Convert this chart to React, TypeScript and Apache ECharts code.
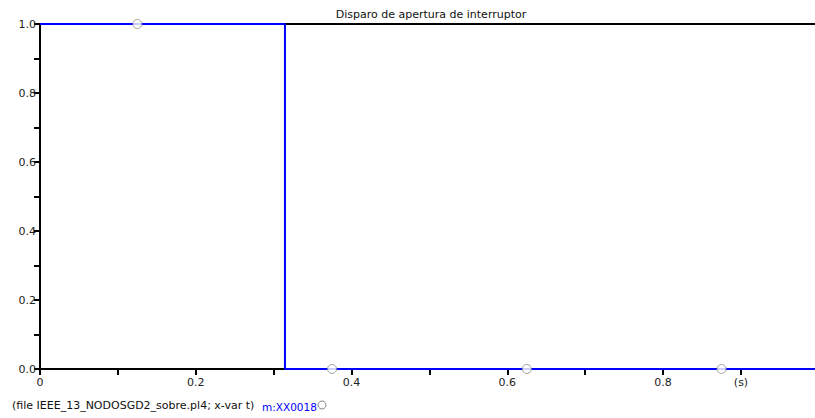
import React, { useEffect, useRef } from "react";
import * as echarts from "echarts";

const titleText = "Disparo de apertura de interruptor";
const fileText = "(file IEEE_13_NODOSGD2_sobre.pl4; x-var t)";
const seriesName = "m:XX0018";
const stepT = [0, 0.3145, 0.3145, 0.995];
const stepV = [1, 1, 0, 0];
const markerT = [0.125, 0.375, 0.625, 0.875];
const markerV = [1, 0, 0, 0];
const xMax = 0.995;
const xUnitLabel = "(s)";

const FONT = "DejaVu Sans";

export default function App() {
  const ref = useRef<HTMLDivElement>(null);
  useEffect(() => {
    document.body.style.margin = "0";
    const chart = echarts.init(ref.current!, null, { renderer: "svg" });
    const lineData = stepT.map((t, i) => [t, stepV[i]]);
    const markData = markerT.map((t, i) => [t, markerV[i]]);
    chart.setOption({
      animation: false,
      backgroundColor: "#ffffff",
      title: {
        text: titleText,
        left: 426,
        textAlign: "center",
        top: 4,
        textStyle: { fontFamily: FONT, fontSize: 11, fontWeight: "normal", color: "#111" },
      },
      grid: { left: 40, right: 0, top: 24, bottom: 49 },
      xAxis: [
        {
          type: "value",
          min: 0,
          max: xMax,
          interval: 0.1,
          axisLine: { show: true, lineStyle: { color: "#000", width: 2 } },
          axisTick: { show: true, length: 6, lineStyle: { color: "#000", width: 2 } },
          splitLine: { show: false },
          axisLabel: {
            margin: 8,
            fontFamily: FONT,
            fontSize: 11,
            color: "#222",
            showMaxLabel: false,
            formatter: (v: number) => {
              const k = Math.round(v * 10);
              if (k === 9) return xUnitLabel;
              if (k % 2 !== 0) return "";
              return k === 0 ? "0" : (k / 10).toFixed(1);
            },
          },
        },
        {
          type: "value",
          position: "top",
          min: 0,
          max: xMax,
          axisLine: { show: true, onZero: false, lineStyle: { color: "#000", width: 2 } },
          axisTick: { show: false },
          axisLabel: { show: false },
          splitLine: { show: false },
        },
      ],
      yAxis: {
        type: "value",
        min: 0,
        max: 1,
        interval: 0.1,
        axisLine: { show: true, lineStyle: { color: "#000", width: 2 } },
        axisTick: { show: true, length: 6, lineStyle: { color: "#000", width: 2 } },
        splitLine: { show: false },
        axisLabel: {
          margin: 4,
          fontFamily: FONT,
          fontSize: 11,
          color: "#222",
          formatter: (v: number) => {
            const k = Math.round(v * 10);
            if (k % 2 !== 0) return "";
            return (k / 10).toFixed(1);
          },
        },
      },
      series: [
        {
          type: "line",
          name: seriesName,
          data: lineData,
          showSymbol: false,
          lineStyle: { color: "#0000ff", width: 2 },
          z: 3,
        },
        {
          type: "scatter",
          data: markData,
          symbol: "circle",
          symbolSize: 9,
          itemStyle: { color: "#ffffff", borderColor: "#888", borderWidth: 1 },
          z: 4,
        },
      ],
      graphic: [
        {
          type: "text",
          left: 12,
          top: 400,
          style: { text: fileText, fontFamily: FONT, fontSize: 11, fill: "#111" },
        },
        {
          type: "text",
          left: 262,
          top: 401,
          style: { text: seriesName, fontFamily: FONT, fontSize: 10.5, fill: "#0000ff" },
        },
        {
          type: "circle",
          shape: { cx: 322, cy: 405, r: 4 },
          style: { fill: "#fff", stroke: "#888", lineWidth: 1 },
        },
      ],
    });
    return () => chart.dispose();
  }, []);
  return <div ref={ref} style={{ width: 815, height: 418 }} />;
}
